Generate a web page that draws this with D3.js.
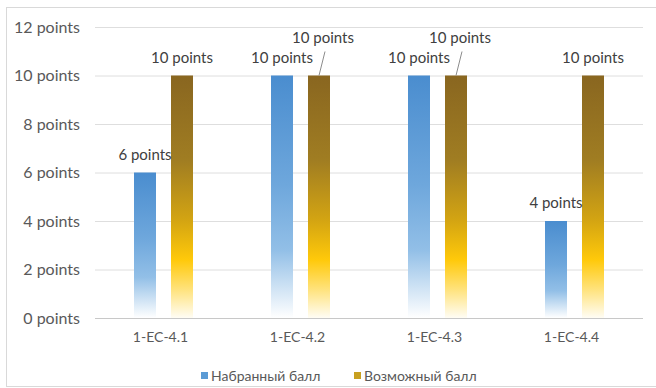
<!DOCTYPE html>
<html>
<head>
<meta charset="utf-8">
<script src="https://cdn.jsdelivr.net/npm/d3@7"></script>
<style>
  html, body { margin: 0; padding: 0; background: #fff; }
  svg { display: block; }
</style>
</head>
<body>
<script>
// Chart data
const categories = ["1-EC-4.1", "1-EC-4.2", "1-EC-4.3", "1-EC-4.4"];
const seriesNames = ["Набранный балл", "Возможный балл"];
const scored = [6, 10, 10, 4];
const possible = [10, 10, 10, 10];
const yTicks = [0, 2, 4, 6, 8, 10, 12];

const W = 656, H = 388;
const margin = { left: 95, right: 13, top: 27, bottom: 70 };
const FONT = "Lato, 'Open Sans', sans-serif";

const svg = d3.select("body").append("svg")
  .attr("width", W).attr("height", H);

// Outer frame
svg.append("rect")
  .attr("x", 6.5).attr("y", 7.5)
  .attr("width", W - 6).attr("height", H - 9)
  .attr("fill", "#fff").attr("stroke", "#d9d9d9");

const x0 = d3.scaleBand().domain(categories)
  .range([margin.left, W - margin.right]).paddingInner(0).paddingOuter(0);
const y = d3.scaleLinear().domain([0, 12]).range([318, 27]);

// Bar layout inside each category band
const barW = 22, gap = 15;
const x1 = d3.scaleOrdinal().domain([0, 1])
  .range([-(gap / 2 + barW), gap / 2]);

// Gradients
const defs = svg.append("defs");
const gBlue = defs.append("linearGradient").attr("id", "gBlue")
  .attr("x1", 0).attr("y1", 0).attr("x2", 0).attr("y2", 1);
[[0, "#4a8dcf"], [0.45, "#6ea7dc"], [0.72, "#92bfe7"], [0.85, "#c5ddf2"], [1, "#ffffff"]]
  .forEach(([o, c]) => gBlue.append("stop").attr("offset", o).attr("stop-color", c));
const gGold = defs.append("linearGradient").attr("id", "gGold")
  .attr("x1", 0).attr("y1", 0).attr("x2", 0).attr("y2", 1);
[[0, "#896620"], [0.35, "#a07d22"], [0.6, "#d4a512"], [0.76, "#ffc90a"], [0.88, "#ffe27a"], [1, "#fffdf5"]]
  .forEach(([o, c]) => gGold.append("stop").attr("offset", o).attr("stop-color", c));

// Gridlines + y labels
const yAxis = d3.axisLeft(y).tickValues(yTicks)
  .tickSize(-(W - margin.right - margin.left))
  .tickPadding(15)
  .tickFormat(d => d + " points");
const ya = svg.append("g").attr("transform", `translate(${margin.left},0)`).call(yAxis);
ya.select(".domain").remove();
ya.selectAll(".tick line").attr("stroke", d => d === 0 ? "#c8c8c8" : "#dedede");
ya.selectAll(".tick text")
  .attr("fill", "#595959")
  .style("font-family", FONT)
  .style("font-size", "16px");

// X axis labels
const xa = svg.append("g").attr("transform", `translate(0,318)`)
  .call(d3.axisBottom(x0).tickSize(0).tickPadding(14));
xa.select(".domain").remove();
xa.selectAll(".tick text")
  .attr("fill", "#595959")
  .attr("dx", -3)
  .style("font-family", FONT)
  .style("font-size", "14px");

// Bars
const rows = categories.map((c, i) => ({ cat: c, vals: [scored[i], possible[i]] }));
const grp = svg.append("g").selectAll("g").data(rows).join("g")
  .attr("transform", d => `translate(${x0(d.cat) + x0.bandwidth() / 2},0)`);
grp.selectAll("rect").data(d => d.vals.map((v, s) => ({ v, s })))
  .join("rect")
  .attr("x", d => x1(d.s))
  .attr("y", d => y(d.v))
  .attr("width", barW)
  .attr("height", d => y(0) - y(d.v))
  .attr("fill", d => d.s === 0 ? "url(#gBlue)" : "url(#gGold)");

// Data labels; where both bars reach the same height the second label is
// lifted and joined to its bar by a short leader line
const labelStyle = sel => sel
  .attr("fill", "#404040")
  .attr("text-anchor", "middle")
  .style("font-family", FONT)
  .style("font-size", "15px");

rows.forEach((r, i) => {
  const cx = x0(r.cat) + x0.bandwidth() / 2;
  r.vals.forEach((v, s) => {
    const bx = cx + x1(s) + barW / 2;
    const clash = s === 1 && r.vals[0] === v;
    if (clash) {
      const lx = bx + 4;
      svg.append("line")
        .attr("x1", lx + 2).attr("y1", y(v) - 24)
        .attr("x2", bx).attr("y2", y(v))
        .attr("stroke", "#8c8c8c").attr("stroke-width", 1);
      svg.append("text").call(labelStyle)
        .attr("x", lx).attr("y", y(v) - 33)
        .text(v + " points");
    } else {
      svg.append("text").call(labelStyle)
        .attr("x", bx).attr("y", y(v) - 13)
        .text(v + " points");
    }
  });
});

// Legend
const legend = svg.append("g");
const legendItems = [
  { name: seriesNames[0], color: "#5b9bd5", x: 201 },
  { name: seriesNames[1], color: "#c8a020", x: 354 }
];
legendItems.forEach(it => {
  legend.append("rect").attr("x", it.x).attr("y", 372)
    .attr("width", 7).attr("height", 7).attr("fill", it.color);
  legend.append("text").attr("x", it.x + 10).attr("y", 381)
    .attr("fill", "#595959")
    .style("font-family", FONT)
    .style("font-size", "14px")
    .text(it.name);
});
</script>
</body>
</html>
